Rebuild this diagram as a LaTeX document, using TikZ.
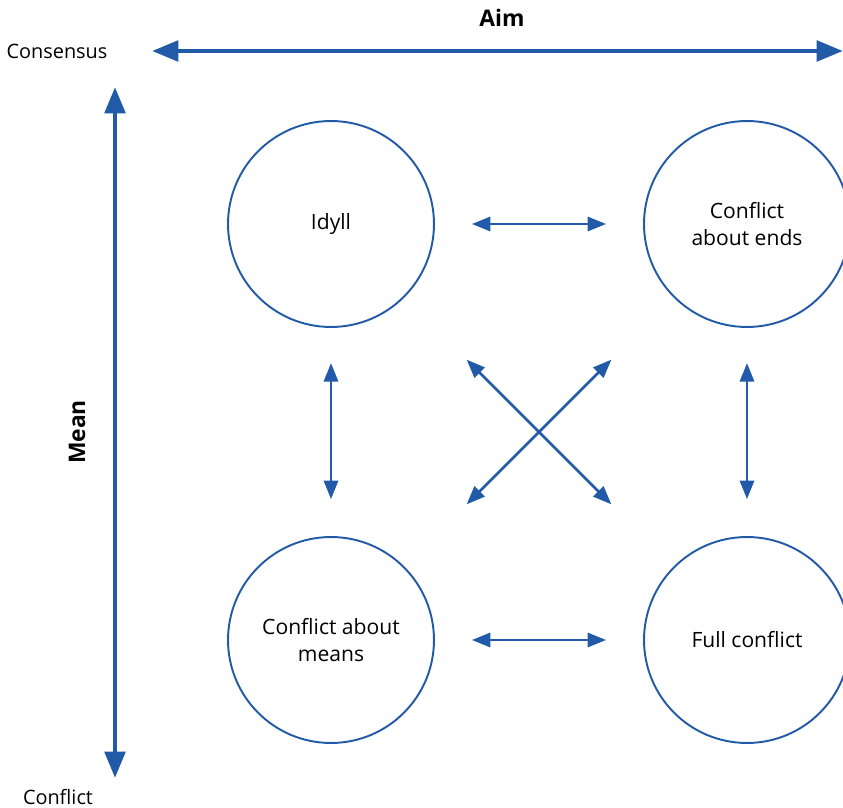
\documentclass[tikz,border=0pt]{standalone}
\usepackage{fontspec}
\setmainfont{Open Sans}
\usetikzlibrary{arrows.meta}
\definecolor{axisblue}{RGB}{33,90,167}

\begin{document}
\begin{tikzpicture}[
		x=0.02cm, y=-0.02cm,
		axis/.style={
			line width=2.8pt,
			color=axisblue,
			{Triangle[length=15pt,width=11.5pt]}-{Triangle[length=15pt,width=11.5pt]}
			},
		link/.style={
			line width=1.6pt,
			color=axisblue,
			{Triangle[length=10.5pt,width=8pt]}-{Triangle[length=10.5pt,width=8pt]}
			},
		state/.style={
			circle,
			draw=axisblue,
			line width=1.1pt,
			minimum size=4.12cm,
			inner sep=0pt,
			align=center,
			font=\fontsize{12}{15.3}\selectfont
			},
		axistext/.style={font=\fontsize{11.3}{13}\selectfont},
		axistitle/.style={font=\fontsize{13}{15}\selectfont\bfseries}
		]
		\useasboundingbox (0,0) rectangle (843,808);
		\clip (0,0) rectangle (843,808);

		% axes
		\coordinate (aimL) at (152,51);
		\coordinate (aimR) at (843,51);
		\coordinate (meanT) at (115,87);
		\coordinate (meanB) at (115,778);
		\draw[axis] (aimL) -- (aimR);
		\draw[axis] (meanT) -- (meanB);

		\node[axistitle] (aim) at (502,18) {Aim};
		\node[axistitle, rotate=90] (mean) at (77,432) {Mean};
		\node[axistext] (consensus) at (57,51) {Consensus};
		\node[axistext] (conflict) at (58,797) {Conflict};

		% the four states
		\node[state] (idyll) at (331,224) {Idyll};
		\node[state] (ends) at (747,224) {Conflict\\about ends};
		\node[state] (means) at (331,640) {Conflict about\\means};
		\node[state] (full) at (747,640) {Full conflict};

		\draw[link, shorten <=21pt, shorten >=21pt] (idyll) -- (ends);
		\draw[link, shorten <=21pt, shorten >=21pt] (means) -- (full);
		\draw[link, shorten <=20pt, shorten >=21pt] (idyll) -- (means);
		\draw[link, shorten <=20pt, shorten >=21pt] (ends) -- (full);
		\draw[link, shorten <=50pt, shorten >=50pt] (idyll) -- (full);
		\draw[link, shorten <=50pt, shorten >=50pt] (ends) -- (means);
	\end{tikzpicture}
\end{document}
